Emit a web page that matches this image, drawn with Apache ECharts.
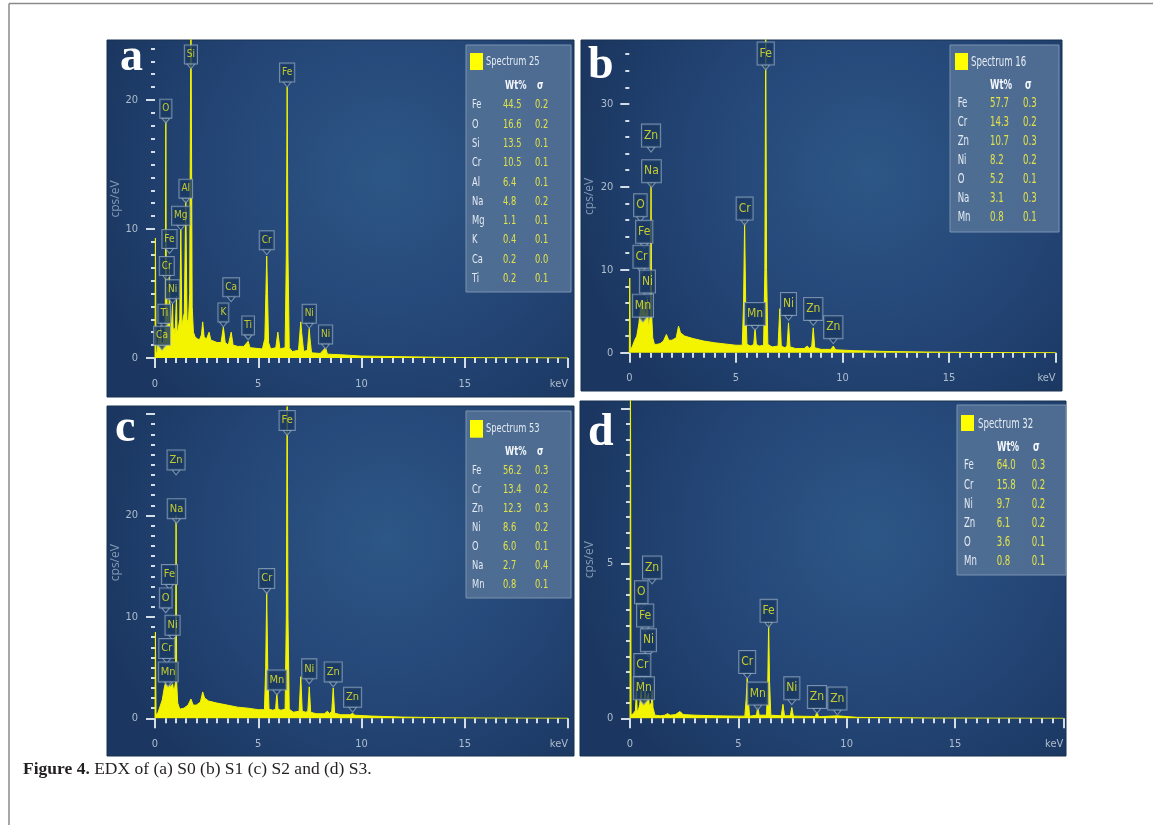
<!DOCTYPE html>
<html><head><meta charset="utf-8">
<script src="https://cdn.jsdelivr.net/npm/echarts@6/dist/echarts.min.js"></script>
<style>html,body{margin:0;padding:0;background:#fff}#c{width:1153px;height:825px}</style>
</head><body><div id="c"></div>
<script>
// ---------------- DATA ----------------
const xMajorTicks = [0, 5, 10, 15, 20];
const xMinorTicks = [0,0.5,1,1.5,2,2.5,3,3.5,4,4.5,5,5.5,6,6.5,7,7.5,8,8.5,9,9.5,10,10.5,11,11.5,12,12.5,13,13.5,14,14.5,15,15.5,16,16.5,17,17.5,18,18.5,19,19.5,20];

const yMajorA = [0, 10, 20];
const yLabelA = [0, 10, 20];
const yMinorA = [0,1,2,3,4,5,6,7,8,9,10,11,12,13,14,15,16,17,18,19,20,21,22,23,24];
const yMajorB = [0, 10, 20, 30];
const yLabelB = [0, 10, 20, 30];
const yMinorB = [0,2,4,6,8,10,12,14,16,18,20,22,24,26,28,30,32,34,36];
const yMajorC = [0, 10, 20, 30];
const yLabelC = [0, 10, 20];
const yMinorC = [0,1,2,3,4,5,6,7,8,9,10,11,12,13,14,15,16,17,18,19,20,21,22,23,24,25,26,27,28,29,30];
const yMajorD = [0, 5, 10];
const yLabelD = [0, 5];
const yMinorD = [0,0.5,1,1.5,2,2.5,3,3.5,4,4.5,5,5.5,6,6.5,7,7.5,8,8.5,9,9.5,10];

// spectra: [keV, cps/eV]
const specA = [[0,0],[0.02,9.3],[0.05,0.3],[0.10,0.5],[0.18,1.5],[0.22,0.6],[0.28,2.5],[0.31,0.8],[0.34,1.2],[0.40,1.0],[0.45,2.0],[0.48,1.2],[0.50,4],[0.525,18.6],[0.55,3],[0.57,5.5],[0.60,2.5],[0.64,3.5],[0.67,2.5],[0.70,7.5],[0.73,2.5],[0.78,2.0],[0.85,4.2],[0.88,2.0],[0.93,2.3],[0.97,1.8],[1.01,3.5],[1.04,4.8],[1.07,2.0],[1.12,2.2],[1.20,3.0],[1.25,10.0],[1.30,2.5],[1.36,2.6],[1.42,3.5],[1.49,12.3],[1.55,3.0],[1.62,2.8],[1.68,5],[1.74,28],[1.80,4],[1.86,2.0],[1.95,1.6],[2.05,1.5],[2.15,1.4],[2.25,1.8],[2.31,2.8],[2.38,1.6],[2.5,1.5],[2.62,2.0],[2.7,1.4],[2.85,1.3],[3.0,1.2],[3.2,1.2],[3.31,2.4],[3.40,1.2],[3.55,1.0],[3.69,2.0],[3.78,1.0],[4.0,0.9],[4.3,0.9],[4.51,1.3],[4.6,0.8],[4.9,0.75],[5.2,0.7],[5.32,1.5],[5.37,5],[5.41,7.9],[5.45,5],[5.50,1.2],[5.6,0.7],[5.85,0.8],[5.95,2.0],[6.05,0.7],[6.30,0.8],[6.36,8],[6.40,21.0],[6.44,8],[6.50,0.8],[6.65,0.5],[6.95,0.6],[7.03,2.2],[7.06,2.8],[7.10,2.0],[7.2,0.5],[7.38,0.6],[7.44,1.8],[7.47,2.3],[7.50,1.6],[7.58,0.4],[8.0,0.35],[8.26,0.8],[8.35,0.3],[9,0.25],[10,0.15],[12,0.1],[14,0.05],[16,0.02],[20,0]];
const specB = [[0,0],[0.02,9.0],[0.05,0.3],[0.15,0.8],[0.25,1.5],[0.35,2.0],[0.45,3.5],[0.52,5.2],[0.57,6.0],[0.60,5.0],[0.64,5.5],[0.67,5.0],[0.70,6.2],[0.74,4.8],[0.78,4.5],[0.85,6.5],[0.90,3.0],[0.95,3.2],[0.99,4.5],[1.02,20.5],[1.05,4.5],[1.10,1.8],[1.18,1.0],[1.3,1.0],[1.45,1.1],[1.60,1.4],[1.74,2.2],[1.85,1.5],[2.0,1.5],[2.2,1.8],[2.31,3.2],[2.40,2.4],[2.6,2.0],[3.0,1.7],[3.5,1.4],[4.0,1.2],[4.5,1.05],[5.0,0.9],[5.3,0.9],[5.36,6],[5.41,15.8],[5.46,6],[5.52,1.0],[5.7,0.8],[5.84,1.0],[5.90,3.0],[5.96,1.0],[6.1,0.8],[6.30,0.9],[6.36,10],[6.40,40],[6.44,10],[6.50,1.0],[6.7,0.7],[6.98,0.8],[7.06,5.3],[7.13,0.8],[7.3,0.6],[7.40,0.8],[7.47,3.6],[7.54,0.7],[7.8,0.5],[8.2,0.5],[8.35,0.8],[8.45,0.5],[8.56,0.8],[8.63,3.0],[8.70,0.6],[9.0,0.4],[9.45,0.4],[9.57,0.8],[9.68,0.35],[10.5,0.25],[12,0.15],[14,0.08],[16,0.03],[18,0.01],[20,0]];
const specC = [[0,0],[0.02,8.5],[0.05,0.3],[0.15,0.6],[0.25,1.2],[0.35,1.8],[0.45,3.0],[0.52,3.6],[0.57,3.4],[0.62,3.0],[0.66,3.3],[0.70,3.5],[0.75,3.0],[0.80,3.2],[0.85,3.4],[0.90,2.8],[0.95,3.0],[0.99,3.5],[1.02,20],[1.05,3.5],[1.10,1.5],[1.2,0.9],[1.4,1.0],[1.6,1.3],[1.74,1.9],[1.85,1.3],[2.0,1.3],[2.2,1.6],[2.31,2.6],[2.40,2.0],[2.6,1.7],[3,1.5],[3.5,1.3],[4,1.1],[4.5,1.0],[5,0.85],[5.3,0.85],[5.36,5],[5.41,12.5],[5.46,5],[5.52,0.9],[5.7,0.8],[5.84,0.9],[5.90,2.5],[5.96,0.9],[6.1,0.8],[6.30,0.9],[6.36,10],[6.40,33],[6.44,10],[6.50,0.9],[6.7,0.6],[6.98,0.7],[7.06,4.1],[7.13,0.7],[7.3,0.6],[7.40,0.7],[7.47,3.1],[7.54,0.6],[7.8,0.45],[8.2,0.45],[8.35,0.7],[8.45,0.45],[8.56,0.7],[8.63,3.0],[8.70,0.5],[9.0,0.35],[9.45,0.35],[9.57,0.5],[9.68,0.3],[10.5,0.22],[12,0.12],[14,0.06],[16,0.03],[18,0.01],[20,0]];
const specD = [[0,0],[0.02,12],[0.05,0.1],[0.15,0.15],[0.25,0.25],[0.30,0.95],[0.33,0.2],[0.40,0.3],[0.45,0.45],[0.52,0.9],[0.55,0.45],[0.60,0.5],[0.64,0.6],[0.67,0.5],[0.70,0.9],[0.74,0.5],[0.80,0.45],[0.85,0.8],[0.89,0.4],[0.95,0.45],[0.99,0.5],[1.02,0.9],[1.06,0.35],[1.15,0.1],[1.4,0.08],[1.6,0.1],[1.74,0.15],[1.85,0.1],[2.1,0.12],[2.31,0.22],[2.45,0.12],[3,0.1],[4,0.08],[5,0.07],[5.3,0.07],[5.36,0.6],[5.41,1.3],[5.46,0.6],[5.52,0.07],[5.84,0.1],[5.90,0.4],[5.96,0.1],[6.3,0.1],[6.36,1.2],[6.40,3.1],[6.44,1.2],[6.50,0.1],[6.98,0.08],[7.06,0.45],[7.13,0.08],[7.40,0.08],[7.47,0.35],[7.54,0.07],[8.56,0.06],[8.63,0.22],[8.70,0.05],[9.57,0.08],[10.5,0.03],[14,0.01],[20,0]];

// peak labels: [element, keV, cps/eV at pointer]
const labelsA = [['Si',1.74,22.8],['Fe',6.40,21.4],['O',0.525,18.6],['Al',1.49,12.4],['Mg',1.25,10.3],['Fe',0.70,8.5],['Cr',0.57,6.4],['Ni',0.85,4.6],['Ti',0.45,2.7],['Ca',0.34,1.0],['K',3.31,2.8],['Ca',3.69,4.75],['Ti',4.51,1.8],['Cr',5.41,8.4],['Ni',7.47,2.7],['Ni',8.26,1.1]];
const labelsB = [['Fe',6.40,34.7],['Zn',1.02,24.8],['Na',1.04,20.5],['O',0.52,16.4],['Fe',0.70,13.2],['Cr',0.57,10.2],['Ni',0.85,7.2],['Mn',0.64,4.3],['Cr',5.41,16.0],['Mn',5.90,3.3],['Ni',7.47,4.5],['Zn',8.63,3.9],['Zn',9.57,1.7]];
const labelsC = [['Fe',6.40,28.4],['Zn',1.02,24.5],['Na',1.04,19.7],['Fe',0.70,13.2],['O',0.52,10.9],['Ni',0.85,8.2],['Cr',0.57,5.9],['Mn',0.64,3.6],['Cr',5.41,12.8],['Mn',5.90,2.8],['Ni',7.47,3.9],['Zn',8.63,3.6],['Zn',9.57,1.1]];
const labelsD = [['Zn',1.02,4.5],['O',0.52,3.7],['Fe',0.70,2.95],['Ni',0.85,2.15],['Cr',0.57,1.35],['Mn',0.64,0.6],['Cr',5.41,1.45],['Fe',6.40,3.1],['Mn',5.90,0.43],['Ni',7.47,0.6],['Zn',8.63,0.32],['Zn',9.57,0.27]];

// quantification tables: [element, Wt%, sigma]
const tableA = [['Fe','44.5','0.2'],['O','16.6','0.2'],['Si','13.5','0.1'],['Cr','10.5','0.1'],['Al','6.4','0.1'],['Na','4.8','0.2'],['Mg','1.1','0.1'],['K','0.4','0.1'],['Ca','0.2','0.0'],['Ti','0.2','0.1']];
const tableB = [['Fe','57.7','0.3'],['Cr','14.3','0.2'],['Zn','10.7','0.3'],['Ni','8.2','0.2'],['O','5.2','0.1'],['Na','3.1','0.3'],['Mn','0.8','0.1']];
const tableC = [['Fe','56.2','0.3'],['Cr','13.4','0.2'],['Zn','12.3','0.3'],['Ni','8.6','0.2'],['O','6.0','0.1'],['Na','2.7','0.4'],['Mn','0.8','0.1']];
const tableD = [['Fe','64.0','0.3'],['Cr','15.8','0.2'],['Ni','9.7','0.2'],['Zn','6.1','0.2'],['O','3.6','0.1'],['Mn','0.8','0.1']];

const spectrumTitles = ['Spectrum 25', 'Spectrum 16', 'Spectrum 53', 'Spectrum 32'];
const panelLetters = ['a', 'b', 'c', 'd'];
const captionBold = 'Figure 4.';
const captionText = ' EDX of (a) S0 (b) S1 (c) S2 and (d) S3.';
const yAxisName = 'cps/eV';

// ---------------- LAYOUT ----------------
const NARROW = '"Liberation Sans Narrow","DejaVu Sans Condensed","Open Sans",sans-serif';
const YEL = '#f4f400';
const panels = [
  {spec:specA, labels:labelsA, table:tableA, yMajor:yMajorA, yLabel:yLabelA, yMinor:yMinorA, yMax:24.65,
   box:[107,40,467,357], grid:[155,40,413,318], yOff:6, xOff:3, xMargin:18, nameGap:26,
   leg:{x:466,y:45,w:105,h:247,sq:[470,53,13,17],tx:486,ty:62,hy:86,wx:505,sx:537,ry:105,rs:19.3,ex:472,vx:503,vs:535,fs:13,sc:0.71},
   letter:[120,58], lfs:10, lpad:[4,2]},
  {spec:specB, labels:labelsB, table:tableB, yMajor:yMajorB, yLabel:yLabelB, yMinor:yMinorB, yMax:37.7,
   box:[581,40,481,351], grid:[629.3,40,426.3,312.7], yOff:5, xOff:3.3, xMargin:17, nameGap:29,
   leg:{x:950,y:45,w:109,h:187,sq:[955,53,13,17],tx:971,ty:62,hy:85,wx:990,sx:1025,ry:103.3,rs:19,ex:957.7,vx:990,vs:1023,fs:14,sc:0.68},
   letter:[588,66], lfs:12, lpad:[5,2]},
  {spec:specC, labels:labelsC, table:tableC, yMajor:yMajorC, yLabel:yLabelC, yMinor:yMinorC, yMax:30.7,
   box:[107,406,467,350], grid:[155,407,413,311.3], yOff:6, xOff:3, xMargin:17, nameGap:26,
   leg:{x:466,y:411,w:105,h:187,sq:[470,420,13,17.7],tx:486,ty:429,hy:452,wx:505,sx:537,ry:471,rs:18.95,ex:472,vx:503,vs:535,fs:13,sc:0.71},
   letter:[115,429], lfs:11, lpad:[4,2]},
  {spec:specD, labels:labelsD, table:tableD, yMajor:yMajorD, yLabel:yLabelD, yMinor:yMinorD, yMax:10.24,
   box:[580,401,486,355], grid:[630,401,433.3,317.3], yOff:5.7, xOff:3, xMargin:17, nameGap:29,
   leg:{x:957,y:405,w:109,h:170,sq:[961,415,13,16],tx:978,ty:424,hy:447,wx:997,sx:1033,ry:465.7,rs:19.2,ex:964,vx:996.7,vs:1031.7,fs:14,sc:0.68},
   letter:[588,433], lfs:12, lpad:[5,2]}
];

const grids = [], xAxes = [], yAxes = [], series = [], graphics = [];
const tickColor = '#d3dde8', labelColor = '#aebdcd';

panels.forEach((p, i) => {
  grids.push({left:p.grid[0], top:p.grid[1], width:p.grid[2], height:p.grid[3], containLabel:false});
  const baseX = {gridIndex:i, type:'value', min:0, max:20, position:'bottom', offset:p.xOff,
    axisLine:{show:false}, splitLine:{show:false}};
  xAxes.push(Object.assign({}, baseX, {
    axisTick:{show:true, length:10, customValues:xMajorTicks, lineStyle:{color:tickColor, width:2}},
    axisLabel:{show:true, customValues:xMajorTicks, margin:p.xMargin, color:labelColor, fontSize:11,
      fontFamily:NARROW, alignMaxLabel:'right', formatter:v => (v === 20 ? 'keV' : String(v))}
  }));
  xAxes.push(Object.assign({}, baseX, {
    axisTick:{show:true, length:5, customValues:xMinorTicks, lineStyle:{color:tickColor, width:2}},
    axisLabel:{show:false}
  }));
  const baseY = {gridIndex:i, type:'value', min:0, max:p.yMax, position:'left', offset:p.yOff,
    axisLine:{show:false}, splitLine:{show:false}};
  yAxes.push(Object.assign({}, baseY, {
    name:yAxisName, nameLocation:'middle', nameGap:p.nameGap, nameRotate:90,
    nameTextStyle:{color:'#8299b2', fontSize:12, fontFamily:'"Open Sans",sans-serif'},
    axisTick:{show:true, length:9, customValues:p.yMajor, lineStyle:{color:tickColor, width:2}},
    axisLabel:{show:true, customValues:p.yLabel, margin:11, color:labelColor, fontSize:11, fontFamily:NARROW,
      formatter:v => (p.yLabel.indexOf(v) >= 0 ? String(v) : '')}
  }));
  yAxes.push(Object.assign({}, baseY, {
    axisTick:{show:true, length:4, customValues:p.yMinor, lineStyle:{color:tickColor, width:2}},
    axisLabel:{show:false}
  }));

  series.push({type:'line', xAxisIndex:2*i, yAxisIndex:2*i, data:p.spec, symbol:'none', clip:true,
    lineStyle:{color:YEL, width:1}, areaStyle:{color:YEL, opacity:1}, z:5, silent:true});

  series.push({type:'scatter', xAxisIndex:2*i, yAxisIndex:2*i, clip:false, z:10, silent:true,
    data:p.labels.map(l => ({name:l[0], value:[l[1], l[2]]})),
    symbol:'triangle', symbolRotate:180, symbolSize:[8,5], symbolOffset:[0,2.5],
    itemStyle:{color:'#193861', borderColor:'#8da4bd', borderWidth:1},
    label:{show:true, position:'top', distance:0, formatter:'{b}', color:'#eeee22',
      backgroundColor:'#193861', borderColor:'#8da4bd', borderWidth:1, padding:p.lpad,
      fontSize:p.lfs, fontFamily:NARROW}});

  // panel background
  graphics.push({type:'rect', z:-10, shape:{x:p.box[0], y:p.box[1], width:p.box[2], height:p.box[3]},
    style:{fill:{type:'radial', x:0.6, y:0.38, r:0.85, colorStops:[
      {offset:0, color:'#2d5786'}, {offset:0.55, color:'#244677'}, {offset:1, color:'#1b3761'}]},
      stroke:'#16304f', lineWidth:1}});
  // panel letter
  graphics.push({type:'text', z:60, x:p.letter[0], y:p.letter[1],
    style:{text:panelLetters[i], fill:'#ffffff', font:'bold 46px "Liberation Serif","DejaVu Serif",serif', verticalAlign:'middle'}});
  // quantification table
  const L = p.leg;
  graphics.push({type:'rect', z:50, shape:{x:L.x, y:L.y, width:L.w, height:L.h},
    style:{fill:'rgba(84,114,150,0.88)', stroke:'#7a93b0', lineWidth:1}});
  graphics.push({type:'rect', z:51, shape:{x:L.sq[0], y:L.sq[1], width:L.sq[2], height:L.sq[3]}, style:{fill:'#ffff00'}});
  const fnt = (w) => (w ? 'bold ' : '') + L.fs + 'px ' + NARROW;
  const txt = (x, y, s, fill, bold) => ({type:'text', z:51, x:x, y:y, scaleX:L.sc, originX:0, originY:0,
    style:{text:s, fill:fill, font:fnt(bold), verticalAlign:'middle'}});
  graphics.push(txt(L.tx, L.ty, spectrumTitles[i], '#e4ebf3', false));
  graphics.push(txt(L.wx, L.hy, 'Wt%', '#f4f7fb', true));
  graphics.push(txt(L.sx, L.hy, 'σ', '#f4f7fb', true));
  p.table.forEach((r, k) => {
    const y = L.ry + k * L.rs;
    graphics.push(txt(L.ex, y, r[0], '#e4ebf3', false));
    graphics.push(txt(L.vx, y, r[1], '#e2e24a', false));
    graphics.push(txt(L.vs, y, r[2], '#e2e24a', false));
  });
});

// outer frame and caption
graphics.push({type:'line', z:0, shape:{x1:9, y1:3.5, x2:1153, y2:3.5}, style:{stroke:'#8a8a8a', lineWidth:1.5}});
graphics.push({type:'line', z:0, shape:{x1:9, y1:3.5, x2:9, y2:825}, style:{stroke:'#8a8a8a', lineWidth:1.5}});
graphics.push({type:'text', z:0, x:23, y:769, style:{
  text:'{b|' + captionBold + '}' + captionText,
  rich:{b:{fontWeight:'bold', fontSize:17.5, fontFamily:'"Liberation Serif",serif', fill:'#231f20'}},
  fill:'#231f20', font:'17.5px "Liberation Serif","DejaVu Serif",serif', verticalAlign:'middle'}});

const chart = echarts.init(document.getElementById('c'), null, {renderer:'canvas'});
chart.setOption({
  animation:false,
  backgroundColor:'#ffffff',
  grid:grids, xAxis:xAxes, yAxis:yAxes, series:series,
  graphic:{elements:graphics}
});
</script>
</body></html>
